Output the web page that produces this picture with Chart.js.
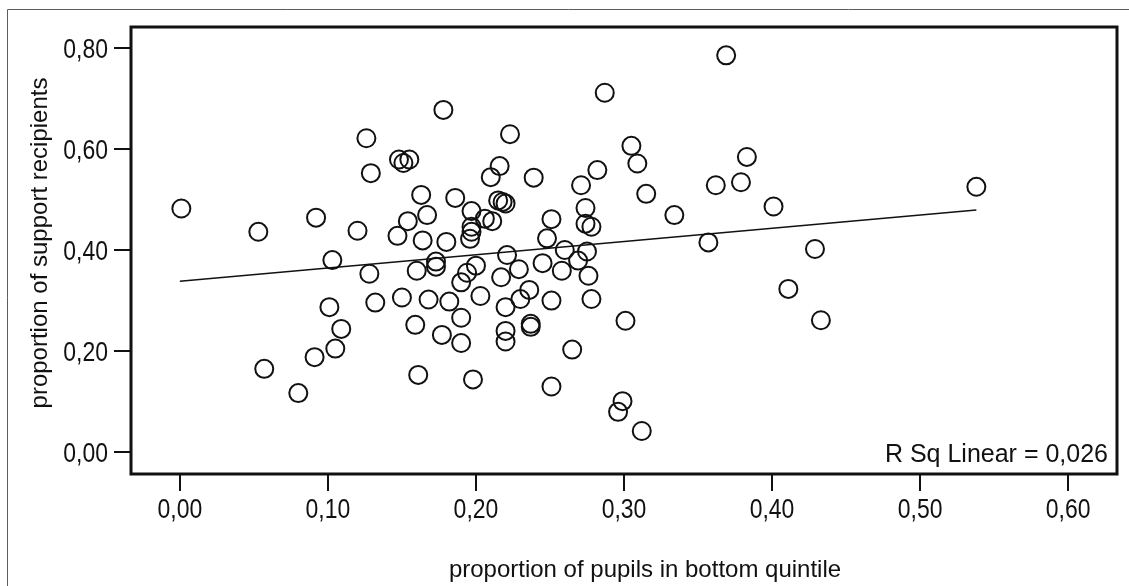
<!DOCTYPE html>
<html>
<head>
<meta charset="utf-8">
<script src="https://cdn.jsdelivr.net/npm/chart.js@4"></script>
<style>
  html, body { margin: 0; padding: 0; background: #fff; }
  #wrap { width: 1129px; height: 586px; position: relative; }
</style>
</head>
<body>
<div id="wrap"><canvas id="scatterGraph"></canvas></div>
<script>
// proportion of pupils in bottom quintile (x) / proportion of support recipients (y)
var pupilsBottom = [
    0.001, 0.053, 0.092, 0.120, 0.126, 0.129, 0.148, 0.155, 0.151, 0.178,
    0.163, 0.154, 0.147, 0.167, 0.164, 0.180, 0.186, 0.197, 0.197, 0.197,
    0.196, 0.103, 0.128, 0.160, 0.173, 0.173, 0.194, 0.200, 0.190, 0.101,
    0.132, 0.150, 0.168, 0.182, 0.203, 0.109, 0.190, 0.159, 0.177, 0.190,
    0.105, 0.091, 0.057, 0.080, 0.161, 0.198, 0.369, 0.287, 0.223, 0.305,
    0.309, 0.383, 0.216, 0.210, 0.239, 0.282, 0.271, 0.315, 0.362, 0.379,
    0.401, 0.334, 0.274, 0.251, 0.274, 0.278, 0.248, 0.357, 0.215, 0.218,
    0.220, 0.206, 0.211, 0.221, 0.260, 0.275, 0.217, 0.229, 0.245, 0.258,
    0.269, 0.276, 0.220, 0.230, 0.236, 0.251, 0.278, 0.220, 0.220, 0.237,
    0.237, 0.301, 0.265, 0.411, 0.251, 0.299, 0.296, 0.312, 0.538, 0.429, 0.433
];
var supportRecipients = [
    0.482, 0.436, 0.464, 0.438, 0.621, 0.552, 0.579, 0.579, 0.572, 0.677,
    0.509, 0.457, 0.428, 0.469, 0.419, 0.416, 0.503, 0.477, 0.446, 0.436,
    0.422, 0.380, 0.353, 0.359, 0.377, 0.367, 0.355, 0.369, 0.336, 0.287,
    0.296, 0.306, 0.302, 0.298, 0.309, 0.244, 0.266, 0.252, 0.232, 0.216,
    0.205, 0.188, 0.165, 0.117, 0.153, 0.144, 0.785, 0.711, 0.629, 0.606,
    0.571, 0.584, 0.566, 0.544, 0.543, 0.558, 0.528, 0.511, 0.528, 0.534,
    0.486, 0.469, 0.483, 0.461, 0.452, 0.446, 0.423, 0.415, 0.498, 0.495,
    0.492, 0.462, 0.457, 0.390, 0.400, 0.397, 0.346, 0.362, 0.374, 0.359,
    0.379, 0.349, 0.287, 0.303, 0.321, 0.300, 0.303, 0.240, 0.219, 0.254,
    0.248, 0.260, 0.203, 0.323, 0.130, 0.101, 0.080, 0.042, 0.525, 0.402, 0.261
];

// fit line end points
var fitX = [0.000, 0.538];
var fitY = [0.338, 0.479];
var rSqLabel = 'R Sq Linear = 0,026';

var xTickValues = [0, 0.1, 0.2, 0.3, 0.4, 0.5, 0.6];
var xTickLabels = ['0,00', '0,10', '0,20', '0,30', '0,40', '0,50', '0,60'];
var yTickValues = [0, 0.2, 0.4, 0.6, 0.8];
var yTickLabels = ['0,00', '0,20', '0,40', '0,60', '0,80'];

var xTitle = 'proportion of pupils in bottom quintile';
var yTitle = 'proportion of support recipients';

var plainFont = '"Liberation Sans", Arial, sans-serif';

var points = pupilsBottom.map(function (x, i) {
    return { x: x, y: supportRecipients[i] };
});
var fitPoints = fitX.map(function (x, i) {
    return { x: x, y: fitY[i] };
});

// no narrow font installed, so squeeze Liberation Sans like Arial Narrow
function narrowText(ctx, text, x, y) {
    ctx.save();
    ctx.translate(x, y);
    ctx.scale(0.82, 1);
    ctx.fillText(text, 0, 0);
    ctx.restore();
}

// frame, outer border, tick labels and the texts around the plot
var framePlugin = {
    id: 'framePlugin',
    beforeDraw: function (chart) {
        var ctx = chart.ctx;
        ctx.save();
        ctx.strokeStyle = '#5c5c5c';
        ctx.lineWidth = 1;
        ctx.beginPath();
        ctx.moveTo(7.5, chart.height);
        ctx.lineTo(7.5, 9.5);
        ctx.lineTo(chart.width, 9.5);
        ctx.stroke();
        ctx.restore();
    },
    afterDraw: function (chart) {
        var ctx = chart.ctx;
        var a = chart.chartArea;
        var xs = chart.scales.x;
        var ys = chart.scales.y;
        ctx.save();
        ctx.strokeStyle = '#111';
        ctx.lineWidth = 3;
        ctx.strokeRect(a.left, a.top, a.right - a.left, a.bottom - a.top);

        ctx.fillStyle = '#111';
        ctx.font = '28px ' + plainFont;
        ctx.textBaseline = 'alphabetic';
        ctx.textAlign = 'center';
        xs.ticks.forEach(function (t, i) {
            narrowText(ctx, xTickLabels[i], xs.getPixelForValue(t.value), a.bottom + 44);
        });
        ctx.textAlign = 'right';
        ys.ticks.forEach(function (t, i) {
            narrowText(ctx, yTickLabels[i], a.left - 23, ys.getPixelForValue(t.value) + 10);
        });

        ctx.font = '25px ' + plainFont;
        ctx.textAlign = 'right';
        ctx.fillText(rSqLabel, a.right - 9, a.bottom - 12);

        ctx.font = '24px ' + plainFont;
        ctx.textAlign = 'center';
        ctx.fillText(xTitle, 645, 577);

        ctx.translate(47, 243);
        ctx.rotate(-Math.PI / 2);
        ctx.fillText(yTitle, 0, 0);
        ctx.restore();
    }
};

var ctx = document.getElementById('scatterGraph').getContext('2d');
var scatterChart = new Chart(ctx, {
    type: 'scatter',
    data: {
        datasets: [{
            label: 'schools',
            data: points,
            pointStyle: 'circle',
            pointRadius: 9,
            pointHoverRadius: 9,
            borderWidth: 2,
            borderColor: '#111',
            backgroundColor: 'rgba(0,0,0,0)'
        }, {
            label: 'fit',
            type: 'line',
            data: fitPoints,
            borderColor: '#111',
            borderWidth: 1.5,
            pointRadius: 0,
            fill: false
        }]
    },
    options: {
        responsive: true,
        maintainAspectRatio: false,
        animation: false,
        layout: {
            padding: { left: 0, top: 27, right: 12, bottom: 0 }
        },
        plugins: {
            legend: { display: false },
            tooltip: { enabled: false }
        },
        scales: {
            x: {
                type: 'linear',
                min: -0.033,
                max: 0.633,
                afterBuildTicks: function (scale) {
                    scale.ticks = xTickValues.map(function (v) { return { value: v }; });
                },
                afterFit: function (scale) { scale.height = 112; },
                border: { display: false },
                grid: {
                    drawOnChartArea: false,
                    tickLength: 17,
                    lineWidth: 2,
                    color: '#111'
                },
                ticks: { display: false }
            },
            y: {
                type: 'linear',
                min: -0.043,
                max: 0.841,
                afterBuildTicks: function (scale) {
                    scale.ticks = yTickValues.map(function (v) { return { value: v }; });
                },
                afterFit: function (scale) { scale.width = 131; },
                border: { display: false },
                grid: {
                    drawOnChartArea: false,
                    tickLength: 17,
                    lineWidth: 2,
                    color: '#111'
                },
                ticks: { display: false }
            }
        }
    },
    plugins: [framePlugin]
});
</script>
</body>
</html>
